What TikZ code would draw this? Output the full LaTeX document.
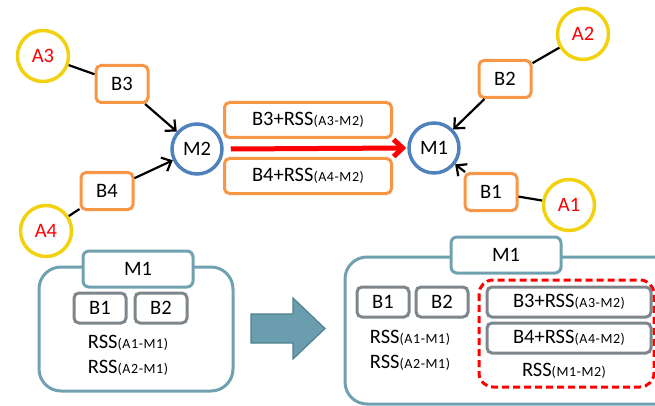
\documentclass[tikz,border=0pt]{standalone}
\usepackage{fontspec}
\setmainfont{Carlito}
\usetikzlibrary{arrows.meta}
\definecolor{ayel}{HTML}{F2D20F}
\definecolor{bor}{HTML}{F79646}
\definecolor{mbl}{HTML}{4F81BD}
\definecolor{teal}{HTML}{70A1B0}
\definecolor{tealfill}{HTML}{6A9EAE}
\definecolor{tealdark}{HTML}{52808F}
\definecolor{gry}{HTML}{7E858B}
\newcommand\sbt[1]{{\fontsize{14}{16}\selectfont\addfontfeatures{LetterSpace=4}#1}}
\begin{document}
\begin{tikzpicture}[x=1pt,y=-1pt,
  font=\fontsize{20.5}{23}\selectfont,
  acirc/.style={circle,draw=ayel,line width=3.5,minimum size=51,inner sep=0,text=red},
  mcirc/.style={circle,draw=mbl,line width=3.5,minimum size=50,inner sep=0},
  obox/.style={rectangle,rounded corners=5,draw=bor,line width=3,minimum width=52,minimum height=37,inner sep=0},
  wbox/.style={obox,minimum width=167,minimum height=35},
  tabbox/.style={rectangle,rounded corners=6,draw=teal,line width=3,fill=white,minimum width=110,minimum height=36,inner sep=0},
  gbox/.style={rectangle,rounded corners=5,draw=gry,line width=3,minimum width=52,minimum height=30,inner sep=0},
  bigbox/.style={rounded corners=22,draw=teal,line width=3},
  link/.style={line width=2.2},
  arr/.style={line width=2.2,-{Straight Barb[length=8,width=15]}},
  lbl/.style={inner sep=0}]
\path[use as bounding box] (0,0) rectangle (655,406);
\begin{scope}
\clip (0,0) rectangle (655,406);
% top graph
\node[acirc] (A3) at (43,56) {A3};
\node[obox] (B3) at (122,84) {B3};
\node[mcirc] (M2) at (197,149) {M2};
\node[obox] (B4) at (107,191) {B4};
\node[acirc] (A4) at (46,231) {A4};
\node[wbox] (R3) at (308,120) {B3+RSS\sbt{(A3-M2)}};
\node[wbox] (R4) at (308,176) {B4+RSS\sbt{(A4-M2)}};
\node[mcirc] (M1) at (434,148) {M1};
\node[obox] (B2) at (505,79) {B2};
\node[acirc] (A2) at (583,34) {A2};
\node[obox] (B1) at (491,192) {B1};
\node[acirc] (A1) at (569,205) {A1};
\draw[link] (A3) -- (B3);
\draw[arr] (B3) -- (M2);
\draw[link] (A4) -- (B4);
\draw[arr] (B4) -- (M2);
\draw[link] (A2) -- (B2);
\draw[arr] (B2) -- (M1);
\draw[link] (A1) -- (B1);
\draw[arr] (B1) -- (M1);
\coordinate (rs) at ([xshift=7]M2.east);
\draw[red,line width=5,-{Straight Barb[length=9,width=17]}] (rs) -- ([xshift=-1]M1.west);
% bottom left
\draw[bigbox] (39,267) rectangle (233,391);
\node[tabbox] (T1) at (138,269) {M1};
\node[gbox] (LB1) at (100,308) {B1};
\node[gbox] (LB2) at (161,308) {B2};
\node[lbl] (L1) at (128,343) {RSS\sbt{(A1-M1)}};
\node[lbl] (L2) at (128,368) {RSS\sbt{(A2-M1)}};
% big arrow
\draw[fill=tealfill,draw=tealdark,line width=1.2,line join=miter]
  (251,314) -- (293,314) -- (293,298) -- (325,328.5) -- (293,359) -- (293,343) -- (251,343) -- cycle;
% bottom right
\draw[bigbox] (345,257) rectangle (690,404);
\node[tabbox] (T2) at (506,255) {M1};
\node[gbox] (RB1) at (383,302) {B1};
\node[gbox] (RB2) at (442,302) {B2};
\node[lbl] (L3) at (410,338) {RSS\sbt{(A1-M1)}};
\node[lbl] (L4) at (410,363) {RSS\sbt{(A2-M1)}};
\draw[red,dashed,line width=3,rounded corners=14,dash pattern=on 7pt off 4pt] (479,280) rectangle (654,387);
\node[gbox,minimum width=164] (G3) at (569,302) {B3+RSS\sbt{(A3-M2)}};
\node[gbox,minimum width=164] (G4) at (569,338) {B4+RSS\sbt{(A4-M2)}};
\node[lbl] (L5) at (564,371) {RSS\sbt{(M1-M2)}};
\end{scope}
\end{tikzpicture}
\end{document}
